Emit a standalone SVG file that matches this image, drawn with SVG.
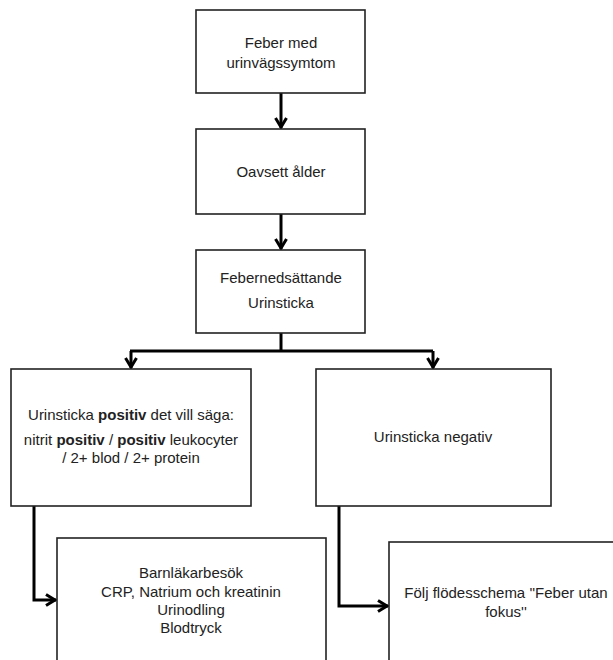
<svg xmlns="http://www.w3.org/2000/svg" width="613" height="660" viewBox="0 0 613 660">
<style>
.box{fill:#fff;stroke:#222;stroke-width:1.6}
.t{font-family:"Liberation Sans","Noto Sans",sans-serif;font-size:15px;fill:#222;text-anchor:middle}
.b{font-weight:bold}
.c{fill:none;stroke:#000;stroke-width:3;stroke-linejoin:miter}
</style>
<defs>
<marker id="ah" viewBox="0 0 14 14" refX="12.5" refY="7" markerWidth="14" markerHeight="14" markerUnits="userSpaceOnUse" orient="auto">
<path d="M2.5,1.5 L11.5,7 L2.5,12.5" fill="none" stroke="#000" stroke-width="3"/>
</marker>
</defs>
<rect width="613" height="660" fill="#fff"/>
<g id="connectors">
<line class="c" x1="281" y1="93" x2="281" y2="128" marker-end="url(#ah)"/>
<line class="c" x1="281" y1="214" x2="281" y2="249" marker-end="url(#ah)"/>
<polyline class="c" points="281,333 281,351"/>
<polyline class="c" points="130,351 433,351"/>
<line class="c" x1="131" y1="351" x2="131" y2="368" marker-end="url(#ah)"/>
<line class="c" x1="433" y1="351" x2="433" y2="368" marker-end="url(#ah)"/>
<polyline class="c" points="34,506 34,600 56,600" marker-end="url(#ah)"/>
<polyline class="c" points="339,506 339,606 388,606" marker-end="url(#ah)"/>
</g>
<g id="n1">
<rect class="box" x="196" y="10" width="169" height="83"/>
<text class="t" x="281" y="48">Feber med</text>
<text class="t" x="281" y="68">urinvägssymtom</text>
</g>
<g id="n2">
<rect class="box" x="196" y="129" width="169" height="85"/>
<text class="t" x="281" y="177">Oavsett ålder</text>
</g>
<g id="n3">
<rect class="box" x="196" y="250" width="169" height="83"/>
<text class="t" x="281" y="283">Febernedsättande</text>
<text class="t" x="281" y="308">Urinsticka</text>
</g>
<g id="n4">
<rect class="box" x="11" y="369" width="240" height="137"/>
<text class="t" x="131" y="420">Urinsticka <tspan class="b">positiv</tspan> det vill säga:</text>
<text class="t" x="131" y="445">nitrit <tspan class="b">positiv</tspan> /  <tspan class="b">positiv</tspan> leukocyter</text>
<text class="t" x="131" y="463">/ 2+ blod / 2+ protein</text>
</g>
<g id="n5">
<rect class="box" x="316" y="369" width="235" height="137"/>
<text class="t" x="433" y="442">Urinsticka negativ</text>
</g>
<g id="n6">
<rect class="box" x="57" y="538" width="269" height="130"/>
<text class="t" x="191" y="578">Barnläkarbesök</text>
<text class="t" x="191" y="597">CRP, Natrium och kreatinin</text>
<text class="t" x="191" y="615">Urinodling</text>
<text class="t" x="191" y="633">Blodtryck</text>
</g>
<g id="n7">
<rect class="box" x="389" y="542" width="240" height="130"/>
<text class="t" x="506" y="598">Följ flödesschema ''Feber utan</text>
<text class="t" x="506" y="617">fokus''</text>
</g>
</svg>
